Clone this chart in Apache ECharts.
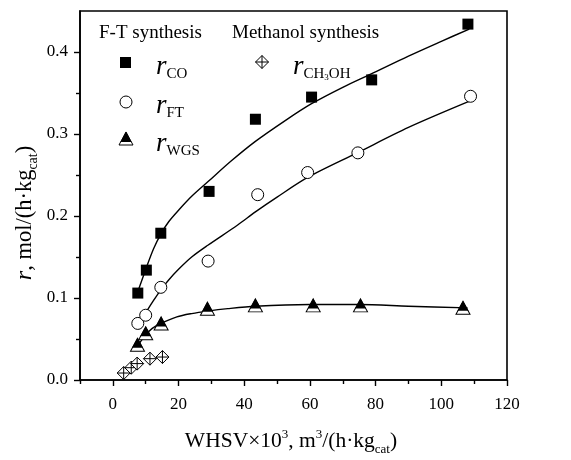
<!DOCTYPE html>
<html>
<head>
<meta charset="utf-8">
<title>Reaction rates vs WHSV</title>
<script src="https://cdn.jsdelivr.net/npm/echarts@6/dist/echarts.min.js"></script>
<style>
  html, body { margin: 0; padding: 0; background: #fff; }
  #chart { width: 571px; height: 460px; }
</style>
</head>
<body>
<div id="chart"></div>
<script>
// Measured rates, mol/(h·kg_cat), against WHSV×10³, m³/(h·kg_cat)
const whsvCO   = [7.6, 10.2, 14.6, 29.3, 43.4, 60.5, 78.8, 108.1];
const rCO      = [0.106, 0.134, 0.179, 0.230, 0.318, 0.345, 0.366, 0.434];
const whsvFT   = [7.6, 10.0, 14.6, 29.0, 44.1, 59.3, 74.6, 108.9];
const rFT      = [0.069, 0.079, 0.113, 0.145, 0.226, 0.253, 0.277, 0.346];
const whsvWGS  = [7.5, 10.0, 14.7, 28.8, 43.4, 61.0, 75.4, 106.6];
const rWGS     = [0.043, 0.057, 0.069, 0.087, 0.091, 0.091, 0.091, 0.088];
const whsvMeOH = [3.3, 5.6, 7.4, 11.3, 15.1];
const rMeOH    = [0.0085, 0.015, 0.020, 0.026, 0.028];

// Fitted trend lines, sampled along each curve
const fitCOx  = [7.8, 10.2, 12.4, 14.6, 17, 20, 24, 29, 36, 43.4, 52.7, 60.5, 70, 78.5, 90, 100, 108.5];
const fitCOy  = [0.110, 0.137, 0.160, 0.178, 0.193, 0.207, 0.224, 0.242, 0.267, 0.291, 0.317, 0.337, 0.357, 0.373, 0.395, 0.413, 0.428];
const fitFTx  = [7.9, 10.2, 12.4, 14.6, 17, 20, 24, 28.8, 38, 43.4, 50, 59.3, 74.4, 90, 108.6];
const fitFTy  = [0.066, 0.083, 0.097, 0.110, 0.122, 0.135, 0.150, 0.164, 0.189, 0.205, 0.223, 0.247, 0.277, 0.308, 0.340];
const fitWGSx = [7.6, 10, 12, 14.6, 19.5, 24, 28.8, 35, 43.4, 60, 75, 90, 108];
const fitWGSy = [0.042, 0.055, 0.063, 0.069, 0.077, 0.081, 0.084, 0.087, 0.090, 0.092, 0.092, 0.090, 0.088];

// Axis ticks
const xLabelTicks = [0, 20, 40, 60, 80, 100, 120];
const xMinorTicks = [-10, 10, 30, 50, 70, 90, 110];
const yLabelTicks = [0, 0.1, 0.2, 0.3, 0.4];
const yMinorTicks = [0.05, 0.15, 0.25, 0.35];

const zip = (xs, ys) => xs.map((x, i) => [x, ys[i]]);

const SERIF = '"Liberation Serif", "DejaVu Serif", serif';
const chart = echarts.init(document.getElementById('chart'), null, { renderer: 'canvas' });

// diamond with an inscribed cross
const crossDiamond = 'path://M0,-10L10,0L0,10L-10,0Z M0,-10L0,10 M-10,0L10,0';

const baseAxis = {
  type: 'value',
  axisLine: { show: true, onZero: false, lineStyle: { color: '#000', width: 1.6 } },
  splitLine: { show: false },
  axisLabel: { color: '#000', fontFamily: SERIF, fontSize: 17 }
};

const fitLine = (name, data) => ({
  name, type: 'line', data, smooth: 0.3,
  showSymbol: false, symbol: 'none', silent: true, z: 2,
  lineStyle: { color: '#000', width: 1.4 }
});

const subLabel = (x, y, text) => ({
  type: 'text', x, y, z: 10,
  style: {
    text, verticalAlign: 'middle', fill: '#000',
    rich: {
      i: { fontFamily: SERIF, fontSize: 27, fontStyle: 'italic', lineHeight: 30, verticalAlign: 'middle' },
      s: { fontFamily: SERIF, fontSize: 15, lineHeight: 15, verticalAlign: 'bottom' },
      t: { fontFamily: SERIF, fontSize: 9, lineHeight: 9, verticalAlign: 'bottom' }
    }
  }
});

const option = {
  backgroundColor: '#fff',
  animation: false,
  grid: { left: 80, right: 64, top: 11, bottom: 80, show: true, borderColor: '#000', borderWidth: 1.6, backgroundColor: 'transparent' },
  xAxis: [
    Object.assign({}, baseAxis, {
      min: -10, max: 120,
      axisTick: { show: true, inside: false, length: 6, lineStyle: { color: '#000', width: 1.4 }, customValues: xLabelTicks },
      axisLabel: Object.assign({}, baseAxis.axisLabel, { margin: 16, customValues: xLabelTicks })
    }),
    Object.assign({}, baseAxis, {
      min: -10, max: 120, position: 'bottom',
      axisLine: { show: false, onZero: false },
      axisTick: { show: true, inside: false, length: 4, lineStyle: { color: '#000', width: 1.4 }, customValues: xMinorTicks },
      axisLabel: { show: false }
    })
  ],
  yAxis: [
    Object.assign({}, baseAxis, {
      min: 0, max: 0.45,
      axisTick: { show: true, inside: false, length: 6, lineStyle: { color: '#000', width: 1.4 }, customValues: yLabelTicks },
      axisLabel: Object.assign({}, baseAxis.axisLabel, { margin: 12, customValues: yLabelTicks, formatter: v => v.toFixed(1) })
    }),
    Object.assign({}, baseAxis, {
      min: 0, max: 0.45, position: 'left',
      axisLine: { show: false, onZero: false },
      axisTick: { show: true, inside: false, length: 4, lineStyle: { color: '#000', width: 1.4 }, customValues: yMinorTicks },
      axisLabel: { show: false }
    })
  ],
  series: [
    fitLine('fit CO', zip(fitCOx, fitCOy)),
    fitLine('fit FT', zip(fitFTx, fitFTy)),
    fitLine('fit WGS', zip(fitWGSx, fitWGSy)),
    {
      name: 'r_CO', type: 'scatter', data: zip(whsvCO, rCO), z: 5,
      symbol: 'rect', symbolSize: 11, itemStyle: { color: '#000', opacity: 1 }
    },
    {
      name: 'r_FT', type: 'scatter', data: zip(whsvFT, rFT), z: 5,
      symbol: 'circle', symbolSize: 12,
      itemStyle: { color: '#fff', borderColor: '#000', borderWidth: 1, opacity: 1 }
    },
    {
      name: 'r_WGS', type: 'scatter', data: zip(whsvWGS, rWGS), z: 5,
      symbol: 'triangle', symbolSize: [14, 13],
      itemStyle: { color: '#fff', borderColor: '#000', borderWidth: 1, opacity: 1 }
    },
    {
      name: 'r_WGS top', type: 'scatter', data: zip(whsvWGS, rWGS), z: 6,
      symbol: 'triangle', symbolSize: [11, 10], symbolOffset: [0, -2],
      itemStyle: { color: '#000', opacity: 1 }
    },
    {
      name: 'r_CH3OH', type: 'scatter', data: zip(whsvMeOH, rMeOH), z: 5,
      symbol: crossDiamond, symbolSize: 13,
      itemStyle: { color: '#fff', borderColor: '#000', borderWidth: 1, opacity: 1 }
    }
  ],
  graphic: [
    // axis titles
    {
      type: 'text', x: 291, y: 441, z: 10,
      style: {
        text: '{n|WHSV×10}{p|3}{n|, m}{p|3}{n|/(h·kg}{s|cat}{n|)}',
        align: 'center', verticalAlign: 'middle', fill: '#000',
        rich: {
          n: { fontFamily: SERIF, fontSize: 21.5, lineHeight: 30, verticalAlign: 'middle' },
          p: { fontFamily: SERIF, fontSize: 13, lineHeight: 13, verticalAlign: 'top', padding: [2, 0, 0, 0] },
          s: { fontFamily: SERIF, fontSize: 13, lineHeight: 13, verticalAlign: 'bottom' }
        }
      }
    },
    {
      type: 'text', x: 25, y: 213, rotation: Math.PI / 2, z: 10,
      style: {
        text: '{i|r}{n|, mol/(h·kg}{s|cat}{n|)}',
        align: 'center', verticalAlign: 'middle', fill: '#000',
        rich: {
          i: { fontFamily: SERIF, fontSize: 24, fontStyle: 'italic', lineHeight: 30, verticalAlign: 'middle' },
          n: { fontFamily: SERIF, fontSize: 22.5, lineHeight: 30, verticalAlign: 'middle' },
          s: { fontFamily: SERIF, fontSize: 14, lineHeight: 14, verticalAlign: 'bottom' }
        }
      }
    },
    // key, upper left of the plot
    { type: 'text', x: 99, y: 33, z: 10, style: { text: 'F-T synthesis', font: '19px ' + SERIF, fill: '#000', verticalAlign: 'middle' } },
    { type: 'text', x: 232, y: 33, z: 10, style: { text: 'Methanol synthesis', font: '19px ' + SERIF, fill: '#000', verticalAlign: 'middle' } },
    { type: 'rect', z: 10, shape: { x: 120, y: 57, width: 11, height: 11 }, style: { fill: '#000' } },
    { type: 'circle', z: 10, shape: { cx: 126, cy: 102, r: 6 }, style: { fill: '#fff', stroke: '#000', lineWidth: 1 } },
    { type: 'polygon', z: 10, shape: { points: [[126, 132], [133, 145], [119, 145]] }, style: { fill: '#fff', stroke: '#000', lineWidth: 1 } },
    { type: 'polygon', z: 11, shape: { points: [[126, 131.5], [131.5, 142], [120.5, 142]] }, style: { fill: '#000' } },
    { type: 'polygon', z: 10, shape: { points: [[262, 55.5], [268.5, 62], [262, 68.5], [255.5, 62]] }, style: { fill: '#fff', stroke: '#000', lineWidth: 1 } },
    { type: 'line', z: 11, shape: { x1: 262, y1: 55.5, x2: 262, y2: 68.5 }, style: { stroke: '#000', lineWidth: 1 } },
    { type: 'line', z: 11, shape: { x1: 255.5, y1: 62, x2: 268.5, y2: 62 }, style: { stroke: '#000', lineWidth: 1 } },
    subLabel(156, 67, '{i|r}{s|CO}'),
    subLabel(156, 106, '{i|r}{s|FT}'),
    subLabel(156, 144, '{i|r}{s|WGS}'),
    subLabel(293, 67, '{i|r}{s|CH}{t|3}{s|OH}')
  ]
};

chart.setOption(option);
</script>
</body>
</html>
